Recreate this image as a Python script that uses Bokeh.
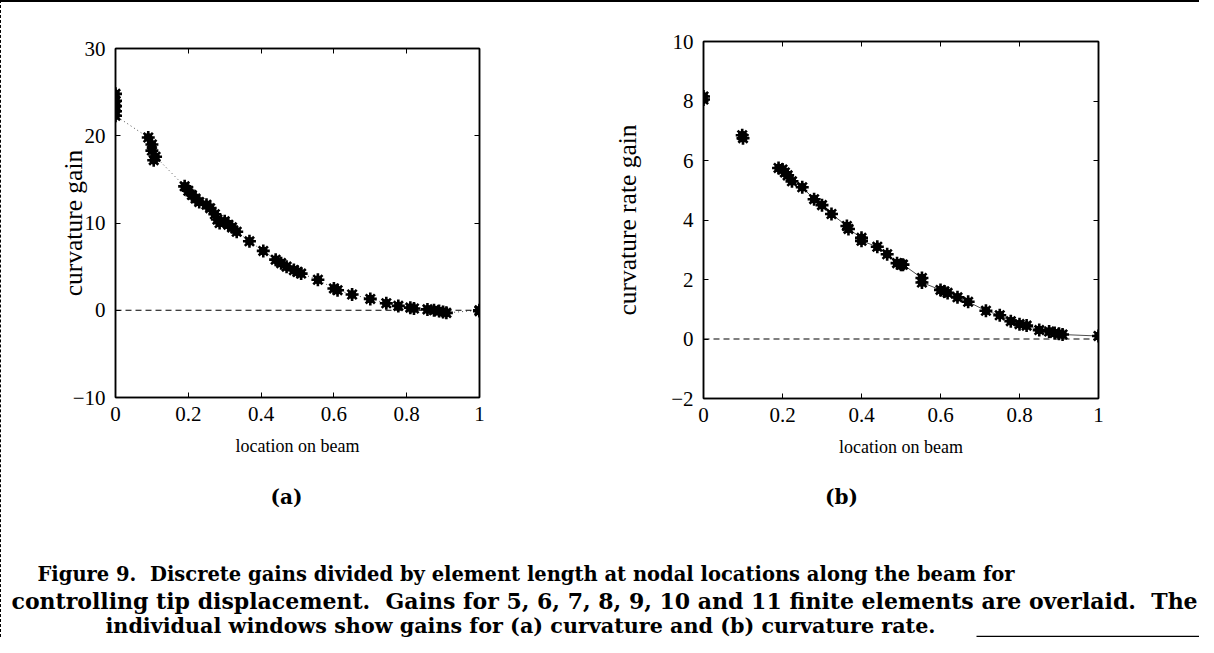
from bokeh.plotting import figure
from bokeh.models import Range1d, FixedTicker, LinearAxis, Span
from bokeh.layouts import row, column
from bokeh.embed import file_html
from bokeh.resources import INLINE
from bokeh.core.properties import value

# ---------------- data ----------------
x_ticks = [0, 0.2, 0.4, 0.6, 0.8, 1]
x_tick_labels = ["0", "0.2", "0.4", "0.6", "0.8", "1"]
ya_ticks = [-10, 0, 10, 20, 30]
yb_ticks = [-2, 0, 2, 4, 6, 8, 10]

# (a) curvature gain
xa = [0, 0, 0, 0, 0,
      0.09, 0.10, 0.10, 0.11, 0.105,
      0.19, 0.20, 0.21, 0.22, 0.23,
      0.25, 0.26, 0.273, 0.28, 0.286,
      0.30, 0.31, 0.32, 0.333, 0.368,
      0.406, 0.44, 0.455, 0.47, 0.49,
      0.50, 0.51, 0.556, 0.60, 0.61,
      0.65, 0.70, 0.744, 0.777, 0.81,
      0.82, 0.857, 0.875, 0.889, 0.90,
      0.909, 1.0, 1.0]
ya = [24.8, 24.0, 23.4, 22.8, 22.3,
      19.8, 19.0, 18.3, 17.6, 17.2,
      14.2, 13.7, 13.2, 12.8, 12.4,
      12.1, 11.7, 11.0, 10.4, 10.0,
      10.2, 9.8, 9.5, 9.0, 7.9,
      6.8, 5.8, 5.4, 5.0, 4.6,
      4.4, 4.2, 3.5, 2.5, 2.3,
      1.8, 1.3, 0.8, 0.5, 0.3,
      0.2, 0.1, 0.0, -0.1, -0.2,
      -0.3, -0.1, 0.0]

# (b) curvature rate gain
xb = [0, 0, 0.098, 0.10, 0.19, 0.20, 0.206, 0.213, 0.224, 0.25,
      0.28, 0.30, 0.324, 0.363, 0.367, 0.40, 0.40, 0.44, 0.465, 0.49,
      0.50, 0.505, 0.553, 0.553, 0.60, 0.61, 0.618, 0.643, 0.67, 0.715,
      0.75, 0.778, 0.80, 0.818, 0.85, 0.875, 0.889, 0.90, 0.909, 1.0]
yb = [8.15, 8.05, 6.85, 6.75, 5.75, 5.7, 5.6, 5.5, 5.3, 5.1,
      4.7, 4.5, 4.2, 3.8, 3.7, 3.4, 3.3, 3.1, 2.85, 2.55,
      2.5, 2.5, 2.05, 1.9, 1.65, 1.6, 1.55, 1.4, 1.25, 0.95,
      0.8, 0.6, 0.5, 0.45, 0.3, 0.25, 0.2, 0.18, 0.15, 0.1]

x_label = "location on beam"
ya_label = "curvature gain"
yb_label = "curvature rate gain"
NB = "\u00a0"
caption_lines = [
    "Figure 9. " + NB + "Discrete gains divided by element length at nodal locations along the beam for",
    "controlling tip displacement. " + NB + "Gains for 5, 6, 7, 8, 9, 10 and 11 finite elements are overlaid. " + NB + "The",
    "individual windows show gains for (a) curvature and (b) curvature rate.",
]
panel_tags = ["(a)", "(b)"]

SERIF = "Liberation Serif"
TICK_FS = "21px"
XLAB_FS = "18px"
YLAB_FS = "25.5px"


def make_panel(xs, ys, yticks, yrange, ylabel, width, height, mb, ylab_standoff,
               line_dash, line_from):
    p = figure(width=width, height=height, x_range=Range1d(0, 1), y_range=Range1d(*yrange),
               output_backend="svg", toolbar_location=None,
               min_border_left=mb[0], min_border_right=mb[1],
               min_border_top=mb[2], min_border_bottom=mb[3],
               background_fill_color="white", border_fill_color="white")
    p.grid.visible = False
    p.outline_line_color = "black"
    p.outline_line_width = 1.5

    xa_ = p.xaxis[0]
    xa_.ticker = FixedTicker(ticks=x_ticks)
    xa_.major_label_overrides = {t: l for t, l in zip(x_ticks, x_tick_labels)}
    xa_.axis_label = x_label
    ya_ = p.yaxis[0]
    ya_.ticker = FixedTicker(ticks=yticks)
    ya_.axis_label = ylabel
    for ax in (xa_, ya_):
        ax.major_label_text_font = SERIF
        ax.major_label_text_font_size = TICK_FS
        ax.major_label_text_color = "black"
        ax.axis_label_text_font = SERIF
        ax.axis_label_text_font_style = "normal"
        ax.axis_label_text_color = "black"
        ax.major_tick_in = 5
        ax.major_tick_out = 0
        ax.minor_tick_in = 0
        ax.minor_tick_out = 0
        ax.axis_line_color = "black"
        ax.axis_line_width = 1.5
        ax.major_tick_line_color = "black"
    xa_.axis_label_text_font_size = XLAB_FS
    ya_.axis_label_text_font_size = YLAB_FS
    xa_.major_label_standoff = 9
    xa_.axis_label_standoff = 12
    ya_.major_label_standoff = 10
    ya_.axis_label_standoff = ylab_standoff

    # mirrored tick marks on top and right
    for loc, tk in (("above", x_ticks), ("right", yticks)):
        ax = LinearAxis(ticker=FixedTicker(ticks=tk), major_label_text_font_size="0px",
                        major_tick_in=5, major_tick_out=0, minor_tick_in=0, minor_tick_out=0,
                        axis_line_color="black", axis_line_width=1.5,
                        major_label_standoff=0)
        p.add_layout(ax, loc)

    p.add_layout(Span(location=0, dimension="width", line_color="black",
                      line_dash="6 4", line_width=1.2))

    order = sorted((i for i in range(len(xs)) if xs[i] >= line_from),
                   key=lambda i: (xs[i], -ys[i]))
    p.line([xs[i] for i in order], [ys[i] for i in order], line_color="black",
           line_width=0.7, line_dash=line_dash)
    p.scatter(xs, ys, marker="asterisk", size=13, line_width=2.6, line_color="black")
    p.scatter(xs, ys, marker="circle", size=8, fill_color="black", line_color="black")
    return p


ROW_H = 460
p1 = make_panel(xa, ya, ya_ticks, (-10, 30), ya_label, 591, ROW_H, (114, 113, 46, 65),
                -18, "1 3", 0.0)
p2 = make_panel(xb, yb, yb_ticks, (-2, 10), yb_label, 607, ROW_H, (111, 101, 39, 64),
                26, "solid", 0.19)

# caption area
cw, ch = 1198, 175
pc = figure(width=cw, height=ch, x_range=Range1d(0, cw), y_range=Range1d(ch, 0),
            x_axis_type=None, y_axis_type=None, output_backend="svg", toolbar_location=None,
            min_border=0, outline_line_color=None)
pc.grid.visible = False
pc.text(x=[285, 840], y=[34, 34], text=panel_tags, text_font=value("DejaVu Serif"),
        text_font_size="20px", text_font_style="bold", text_align="center",
        text_baseline="middle", text_color="black")
cap_sizes = ["19.5px", "22px", "20.7px"]
for (cx, cy, txt, fs) in zip([36, 10, 104], [112, 138, 163], caption_lines, cap_sizes):
    pc.text(x=[cx], y=[cy], text=[txt], text_font=value("DejaVu Serif"),
            text_font_size=fs, text_font_style="bold", text_align="left",
            text_baseline="middle", text_color="black")
pc.segment(x0=[975], y0=[174], x1=[1198], y1=[174], line_color="black", line_width=1.5)

layout = column(row(column(p1), column(p2)), pc,
                styles={"border-top": "2px solid black", "border-left": "1px dashed black"})

open("out.html", "w").write(file_html(layout, INLINE))
